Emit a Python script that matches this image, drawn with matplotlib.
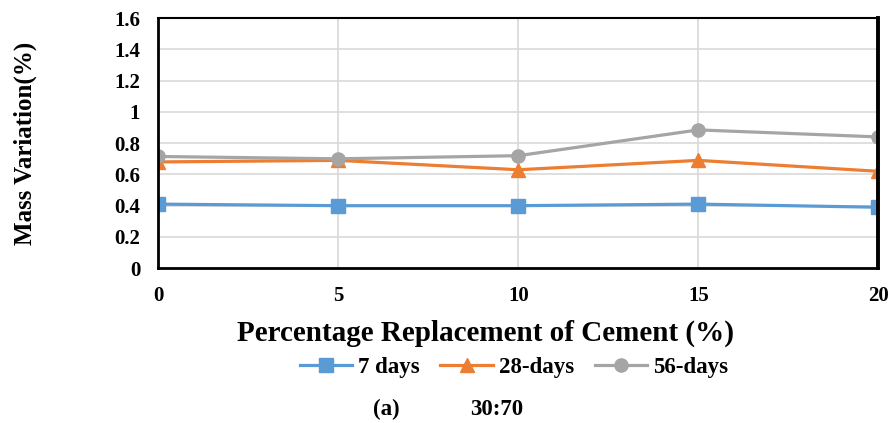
import matplotlib.pyplot as plt

plt.rcParams['font.family'] = ['Liberation Serif', 'DejaVu Serif']
plt.rcParams['font.weight'] = 'bold'

# data
replacement = [0, 5, 10, 15, 20]
days_7 = [0.41, 0.40, 0.40, 0.41, 0.39]
days_28 = [0.68, 0.69, 0.63, 0.69, 0.62]
days_56 = [0.715, 0.70, 0.72, 0.885, 0.84]
y_ticks = [0, 0.2, 0.4, 0.6, 0.8, 1, 1.2, 1.4, 1.6]
y_tick_labels = ['0', '0.2', '0.4', '0.6', '0.8', '1', '1.2', '1.4', '1.6']

fig = plt.figure(figsize=(8.89, 4.23), dpi=100)
ax = fig.add_axes([0.178, 0.366, 0.81, 0.591])

ax.plot(replacement, days_7, color='#5b9bd5', lw=2.3, marker='s', ms=9.5, label='7 days')
ax.plot(replacement, days_28, color='#ed7d31', lw=2.3, marker='^', ms=9.5, label='28-days')
ax.plot(replacement, days_56, color='#a5a5a5', lw=2.3, marker='o', ms=9.5, label='56-days')

ax.set_xlim(0, 20)
ax.set_ylim(0, 1.6)
ax.set_xticks(replacement)
ax.set_yticks(y_ticks)
ax.set_yticklabels(y_tick_labels)
ax.grid(True, color='#d9d9d9', lw=1.2)
ax.set_axisbelow(True)
ax.tick_params(length=0, labelsize=15)
ax.tick_params(axis='y', pad=13)
ax.tick_params(axis='x', pad=13)
for lbl in ax.get_xticklabels() + ax.get_yticklabels():
    lbl.set_fontweight('bold')
for s in ax.spines.values():
    s.set_color('black')
    s.set_linewidth(1.5)
ax.spines['left'].set_linewidth(2)
ax.spines['bottom'].set_linewidth(2)
ax.spines['right'].set_linewidth(2.8)

ax.set_xlabel('Percentage Replacement of Cement (%)', fontsize=21, fontweight='bold')
ax.xaxis.set_label_coords(0.455, -0.205)
fig.text(0.028, 0.66, 'Mass Variation(%)', rotation=90, fontsize=18, fontweight='bold',
         ha='center', va='center')

leg = fig.legend(loc='center', bbox_to_anchor=(0.578, 0.132), ncol=3, frameon=False,
                 prop={'size': 16.5, 'weight': 'bold'}, handlelength=2.3, columnspacing=0.9,
                 handletextpad=0.25)

fig.text(0.434, 0.033, '(a)', fontsize=16.5, fontweight='bold', ha='center', va='center')
fig.text(0.559, 0.033, '30:70', fontsize=16.5, fontweight='bold', ha='center', va='center')

fig.savefig('out.png', dpi=100)
